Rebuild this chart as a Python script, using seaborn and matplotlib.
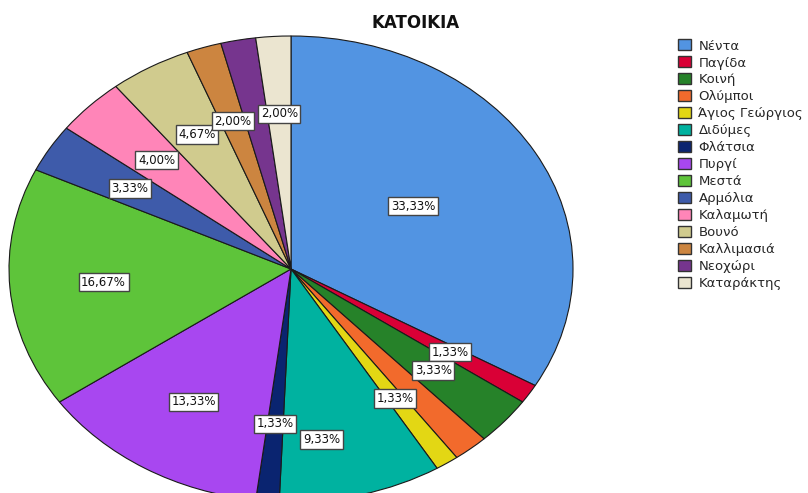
import numpy as np
import matplotlib
matplotlib.use("Agg")
import matplotlib.pyplot as plt
import matplotlib.patches as mpatches
import seaborn as sns

# ---- data ----
title = "KATOIKIA"
categories = ["Νέντα", "Παγίδα", "Κοινή", "Ολύμποι", "Άγιος Γεώργιος", "Διδύμες",
              "Φλάτσια", "Πυργί", "Μεστά", "Αρμόλια", "Καλαμωτή", "Βουνό",
              "Καλλιμασιά", "Νεοχώρι", "Καταράκτης"]
counts = [50, 2, 5, 3, 2, 14, 2, 20, 25, 5, 6, 7, 3, 3, 3]
hex_colors = ["#5294E2", "#D90036", "#268229", "#F26A2C", "#E3D714", "#00B2A0",
              "#0A2470", "#A847F0", "#5EC43A", "#3E5BAA", "#FF85B8", "#D0CB8E",
              "#CC8540", "#76358E", "#EBE5D0"]
hidden_labels = ["Ολύμποι", "Νεοχώρι"]

sns.set_theme(style="white")
plt.rcParams["font.family"] = ["DejaVu Sans"]
palette = sns.color_palette(hex_colors)

W, H = 808, 493
fig = plt.figure(figsize=(W / 100, H / 100), dpi=100)
fig.patch.set_facecolor("white")

cx, cy, rx, ry = 291, 269, 282, 233
ax = fig.add_axes([(cx - rx) / W, (H - cy - ry) / H, 2 * rx / W, 2 * ry / H])

wedges, _ = ax.pie(counts, colors=palette, startangle=90, counterclock=False,
                   radius=1.0,
                   wedgeprops=dict(edgecolor="#1a1a1a", linewidth=0.8))
ax.set_aspect("auto")
ax.set_xlim(-1, 1)
ax.set_ylim(-1, 1)
ax.axis("off")

# percentage labels
vals = np.array(counts, dtype=float)
pct = vals / vals.sum() * 100
cum = np.concatenate([[0], np.cumsum(pct)])
adjust = {"Νέντα": (0.51, 2.0), "Διδύμες": (0.74, -6.0)}
for i, name in enumerate(categories):
    if name in hidden_labels:
        continue
    mid = 90 - (cum[i] + cum[i + 1]) / 2 * 3.6
    r, dang = adjust.get(name, (0.667, 0.0))
    a = np.deg2rad(mid + dang)
    txt = f"{pct[i]:.2f}".replace(".", ",") + "%"
    ax.text(r * np.cos(a), r * np.sin(a), txt, ha="center", va="center",
            fontsize=8.5, color="#111111",
            bbox=dict(boxstyle="square,pad=0.22", facecolor="white",
                      edgecolor="#444444", linewidth=1.0))

fig.text(415.5 / W, 1 - 23 / H, title, ha="center", va="center",
         fontsize=12, fontweight="bold", color="#111111")

handles = [mpatches.Patch(facecolor=c, edgecolor="#333333", linewidth=1.0)
           for c in palette]
fig.legend(handles, categories, loc="upper left",
           bbox_to_anchor=(678 / W, 1 - 39.5 / H), frameon=False,
           fontsize=9.5, borderpad=0, borderaxespad=0, labelspacing=0.30,
           handlelength=1.0, handleheight=0.9, handletextpad=0.55)

fig.savefig("out.png", dpi=100, facecolor="white")
